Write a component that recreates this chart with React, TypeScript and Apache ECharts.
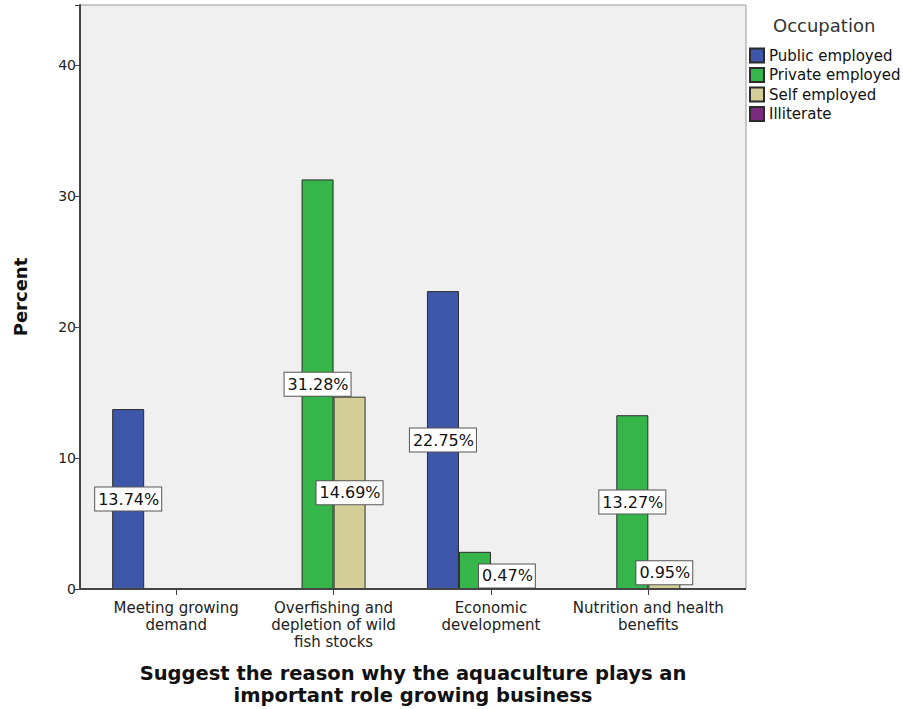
import React, { useEffect, useRef } from "react";
import * as echarts from "echarts";

const categories = [
  "Meeting growing\ndemand",
  "Overfishing and\ndepletion of wild\nfish stocks",
  "Economic\ndevelopment",
  "Nutrition and health\nbenefits",
];
const seriesNames = ["Public employed", "Private employed", "Self employed", "Illiterate"];
const publicEmployed = [13.74, 0, 22.75, 0];
const privateEmployed = [0, 31.28, 2.84, 13.27];
const selfEmployed = [0, 14.69, 0.47, 0.95];
const illiterate = [0, 0, 0, 0];
const hiddenLabels: [number, number][] = [[1, 2]]; // [series index, category index]
const colors = ["#3E57A9", "#35B54A", "#D4CF98", "#7B2A7D"];
const yTicks = [0, 10, 20, 30, 40];
const yMax = 44.6;
const titleLines = ["Suggest the reason why the aquaculture plays an", "important role growing business"];
const FONT = "DejaVu Sans";

export default function App() {
  const ref = useRef<HTMLDivElement>(null);
  useEffect(() => {
    document.body.style.margin = "0";
    const chart = echarts.init(ref.current!, undefined, { renderer: "svg" });
    const all = [publicEmployed, privateEmployed, selfEmployed, illiterate];
    const series = all.map((vals, si) => ({
      name: seriesNames[si],
      type: "bar",
      barWidth: 32,
      barGap: "0%",
      itemStyle: { color: colors[si], borderColor: "#2b2b2b", borderWidth: 1 },
      data: vals.map((v, ci) => {
        const hidden = v <= 0 || hiddenLabels.some(([s, c]) => s === si && c === ci);
        return {
          value: v,
          label: {
            show: !hidden,
            offset: v < 2 ? [0, -10] : [0, 0],
          },
        };
      }),
      label: {
        position: "inside",
        formatter: (p: any) => p.value.toFixed(2) + "%",
        fontFamily: FONT,
        fontSize: 16,
        lineHeight: 18,
        color: "#111",
        backgroundColor: "#fff",
        borderColor: "#555",
        borderWidth: 1,
        padding: [3, 2, 2, 3],
      },
      z: 2,
    }));
    chart.setOption({
      animation: false,
      textStyle: { fontFamily: FONT },
      grid: { left: 97.5, right: 176, top: 5, bottom: 120, containLabel: false },
      xAxis: {
        type: "category",
        data: categories,
        axisLine: { show: false },
        axisTick: { show: true, alignWithLabel: true, length: 6, lineStyle: { color: "#444" } },
        axisLabel: {
          interval: 0,
          fontFamily: FONT,
          fontSize: 15,
          lineHeight: 17,
          color: "#222",
          margin: 10,
        },
      },
      yAxis: {
        type: "value",
        min: 0,
        max: yMax,
        interval: 10,
        offset: 17.5,
        axisLine: { show: true, lineStyle: { color: "#444", width: 2 } },
        axisTick: { show: true, length: 5, lineStyle: { color: "#444" } },
        axisLabel: {
          fontFamily: FONT,
          fontSize: 14,
          color: "#222",
          margin: 4,
          formatter: (v: number) => (yTicks.includes(v) ? String(v) : ""),
        },
        splitLine: { show: false },
      },
      legend: {
        data: seriesNames,
        orient: "vertical",
        left: 749,
        top: 47.5,
        itemWidth: 14,
        itemHeight: 14,
        itemGap: 3.5,
        padding: 0,
        icon: "rect",
        textStyle: { fontFamily: FONT, fontSize: 15, lineHeight: 15, color: "#111" },
      },
      graphic: [
        {
          type: "rect",
          z: -10,
          silent: true,
          shape: { x: 80, y: 5, width: 666, height: 584 },
          style: { fill: "#F0F0F0", stroke: "#999", lineWidth: 1 },
        },
        {
          type: "line",
          z: 10,
          silent: true,
          shape: { x1: 79, y1: 589, x2: 746, y2: 589 },
          style: { stroke: "#444", lineWidth: 2 },
        },
        {
          type: "text",
          x: 773,
          y: 25,
          style: {
            text: "Occupation",
            fontFamily: FONT,
            fontSize: 18,
            fill: "#333",
            textVerticalAlign: "middle",
          },
        },
        {
          type: "text",
          x: 20,
          y: 297,
          rotation: Math.PI / 2,
          style: {
            text: "Percent",
            fontFamily: FONT,
            fontSize: 18,
            fontWeight: "bold",
            fill: "#111",
            textAlign: "center",
            textVerticalAlign: "middle",
          },
        },
        ...titleLines.map((t, i) => ({
          type: "text",
          x: 413,
          y: 673 + i * 22,
          style: {
            text: t,
            fontFamily: FONT,
            fontSize: 19.5,
            lineHeight: 20,
            fontWeight: "bold",
            fill: "#111",
            textAlign: "center",
            textVerticalAlign: "middle",
          },
        })),
      ],
      series,
    });
    return () => chart.dispose();
  }, []);
  return <div ref={ref} style={{ width: 903, height: 709 }} />;
}
